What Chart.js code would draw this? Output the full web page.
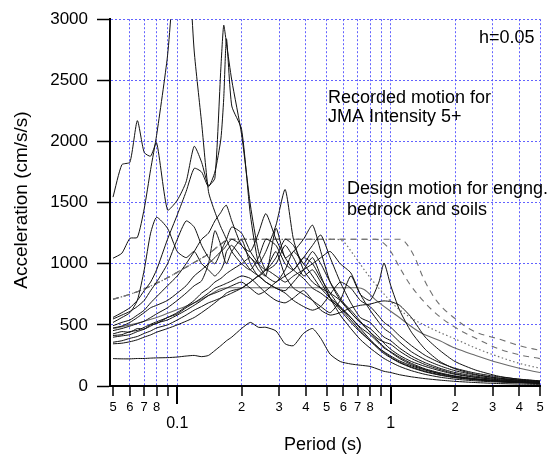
<!DOCTYPE html>
<html><head><meta charset="utf-8">
<script src="https://cdn.jsdelivr.net/npm/chart.js@4"></script>
<style>html,body{margin:0;padding:0;background:#fff;}#wrap{width:554px;height:457px;}</style>
</head><body><div id="wrap"><canvas id="c" width="554" height="457"></canvas></div>
<script>
// ---- Period grid (s) for recorded spectra ----
const periods = [0.05,0.055,0.06,0.065,0.07,0.075,0.08,0.09,0.1,0.11,0.12,0.13,0.14,0.15,0.16,0.165,0.17,0.18,0.2,0.22,0.24,0.26,0.29,0.32,0.35,0.39,0.43,0.47,0.52,0.58,0.65,0.72,0.8,0.88,0.93,1.0,1.1,1.25,1.45,1.7,2.0,2.5,3.2,4.0,5.0];

// ---- Recorded motions, JMA intensity 5+ (cm/s/s) ----
const rec01 = [1545,1810,1830,2170,1910,1880,1990,1440,1520,1670,1960,1830,1640,1700,2600,2950,2800,2500,2060,1480,1100,950,1000,1150,1050,900,950,850,720,620,520,440,370,310,280,245,205,165,130,100,78,56,40,31,24];
const rec02 = [1045,1086,1208,1215,1450,1770,2050,2700,3600,3700,2740,2152,1590,1424,1300,1250,1200,1100,1000,950,1050,1200,1150,1000,950,1050,1000,880,760,640,540,450,370,300,265,230,190,150,115,88,68,50,36,28,22];
const rec03 = [561,600,640,700,780,850,950,1200,1400,1590,1780,1750,1630,1750,2020,2350,2840,2290,2100,1400,1000,900,850,950,1100,1000,900,800,720,650,560,470,380,310,275,235,195,155,120,92,70,52,38,30,23];
const rec04 = [548,580,610,650,700,780,850,1000,1200,1350,1300,1150,1050,1000,1100,1150,1200,1300,1250,1100,1000,950,1050,1200,1150,1000,1100,1000,850,720,600,520,470,400,350,300,250,200,160,125,95,70,50,38,30];
const rec05 = [520,560,600,700,950,1250,1380,1290,1100,1050,1100,1000,950,900,950,1000,1100,1150,1050,950,900,850,800,780,850,950,1050,900,720,580,470,380,310,255,225,195,160,125,95,72,56,42,32,26,20];
const rec06 = [493,520,540,580,620,680,730,820,900,1000,1100,1200,1250,1350,1420,1460,1478,1350,1150,1100,1250,1410,1200,1050,950,880,800,760,700,640,560,480,420,350,310,280,235,185,140,108,82,60,44,34,26];
const rec07 = [475,490,520,560,600,640,660,700,760,820,900,950,1000,1050,1100,1120,1150,1200,1150,1050,1000,1100,1316,1607,1200,950,850,800,760,700,620,530,440,360,320,275,225,175,135,102,78,57,42,32,25];
const rec08 = [453,470,490,510,530,560,590,640,700,760,820,860,1000,1270,1150,1050,1000,1100,1197,1000,900,950,1100,900,800,750,700,650,600,700,900,750,700,850,1006,820,620,440,300,200,140,95,65,48,36];
const rec09 = [426,445,440,470,465,500,510,560,590,640,680,720,760,800,820,830,840,860,900,880,820,760,700,680,720,780,700,620,580,600,640,660,670,690,696,690,660,560,400,290,200,130,80,55,40];
const rec10 = [413,420,445,455,480,505,525,560,600,650,700,760,800,850,880,900,920,950,1000,1050,950,900,1289,1050,1100,1200,1316,1100,850,700,600,520,440,380,360,340,285,225,175,135,100,72,52,40,30];
const rec11 = [399,410,420,445,465,490,515,540,580,620,660,700,740,760,780,790,800,820,850,800,750,780,850,900,950,1050,1150,1235,1050,850,680,560,520,440,400,370,310,245,190,145,110,80,58,44,34];
const rec12 = [358,370,390,405,430,450,475,500,540,580,620,650,680,700,720,730,740,760,800,850,900,950,900,850,900,950,1000,1050,1100,1000,925,750,620,520,470,430,360,280,215,165,125,90,64,48,37];
const rec13 = [345,350,362,378,400,418,440,470,500,530,560,600,640,680,720,740,760,780,800,850,900,850,800,760,700,650,620,650,750,850,800,700,650,570,520,480,410,330,250,190,145,105,75,56,42];
const rec14 = [224,222,222,225,225,228,230,232,237,245,250,240,250,290,330,350,370,400,470,520,480,480,450,345,330,430,470,390,260,200,180,170,160,135,120,110,92,75,60,48,38,28,20,16,13];
const recorded = [rec01,rec02,rec03,rec04,rec05,rec06,rec07,rec08,rec09,rec10,rec11,rec12,rec13,rec14];

// ---- Design motions (cm/s/s) ----
const bedrockT = [0.05,0.06,0.07,0.08,0.1,0.12,0.14,0.16,0.175,0.3,0.5,0.7,0.75,0.86,1.07,1.37,1.69,2.0,2.5,3.2,4.0,5.0];
const bedrockA = [470,500,530,560,625,680,740,795,803,803,803,803,790,696,574,439,372,310,250,190,145,110];
const soil1T = [0.05,0.06,0.07,0.08,0.09,0.1,0.12,0.14,0.16,0.175,0.3,0.45,0.55,0.6,0.67,0.77,0.89,1.07,1.27,1.64,2.0,2.5,3.2,4.0,5.0];
const soil1A = [710,750,795,840,885,930,1010,1080,1160,1200,1200,1200,1200,1180,1073,925,790,641,548,450,385,310,240,185,145];
const soil2T = [0.05,0.06,0.07,0.08,0.09,0.1,0.12,0.14,0.16,0.175,0.3,0.5,0.7,0.85,0.95,1.0,1.1,1.23,1.42,1.64,2.0,2.5,3.2,4.0,5.0];
const soil2A = [710,750,795,840,885,930,1010,1080,1160,1200,1200,1200,1200,1200,1150,1100,970,831,696,588,480,390,305,255,224];
const soil3T = [0.05,0.06,0.07,0.08,0.09,0.1,0.12,0.14,0.16,0.175,0.3,0.5,0.8,1.12,1.2,1.3,1.42,1.64,1.97,2.44,3.27,4.0,5.0];
const soil3A = [710,750,795,840,885,930,1010,1080,1160,1200,1200,1200,1200,1200,1150,1046,884,696,560,450,380,330,291];

// ---- Axis ticks ----
const xGridValues = [0.06,0.07,0.08,0.09,0.1,0.2,0.3,0.4,0.5,0.6,0.7,0.8,0.9,1,2,3,4,5];
const xMinorTickValues = [0.05,0.06,0.07,0.08,0.09,0.2,0.3,0.4,0.5,0.6,0.7,0.8,0.9,2,3,4,5];
const xMinorLabelValues = [0.05,0.06,0.07,0.08,0.2,0.3,0.4,0.5,0.6,0.7,0.8,2,3,4,5];
const xMinorLabels = ['5','6','7','8','2','3','4','5','6','7','8','2','3','4','5'];
const xMajorValues = [0.1,1];
const xMajorLabels = ['0.1','1'];
const yTickValues = [0,500,1000,1500,2000,2500,3000];

const FONT = '"Liberation Sans", Arial, Helvetica, sans-serif';
const GRID = 'rgba(70,70,255,0.85)';

const datasets = [];
recorded.forEach((arr, k) => {
  datasets.push({label:'rec'+(k+1), data: periods.map((t,i)=>({x:t,y:arr[i]})),
    borderColor:'#111', borderWidth:1, pointRadius:0, tension:0.2});
});
const design = [
  [bedrockT, bedrockA, [], '#6a6a6a', 1.1],
  [soil1T, soil1A, [1.5,2.5], '#707070', 1.2],
  [soil2T, soil2A, [6,5], '#707070', 1.1],
  [soil3T, soil3A, [6,5], '#707070', 1.1]
];
design.forEach(([T,A,dash,col,w],k)=>{
  datasets.push({label:'design'+k, data: T.map((t,i)=>({x:t,y:A[i]})),
    borderColor:col, borderWidth:w, borderDash:dash, pointRadius:0, cubicInterpolationMode:'monotone'});
});

const decor = {
  id:'decor',
  afterDraw(chart){
    const ctx = chart.ctx, xs = chart.scales.x, area = chart.chartArea;
    const y0 = area.bottom + 1;
    ctx.save();
    ctx.strokeStyle = '#000'; ctx.lineWidth = 1.5;
    xMinorTickValues.forEach(v=>{
      const px = Math.round(xs.getPixelForValue(v));
      ctx.beginPath(); ctx.moveTo(px, y0); ctx.lineTo(px, y0+9); ctx.stroke();
    });
    ctx.lineWidth = 2;
    xMajorValues.forEach(v=>{
      const px = Math.round(xs.getPixelForValue(v));
      ctx.beginPath(); ctx.moveTo(px, y0); ctx.lineTo(px, y0+17); ctx.stroke();
    });
    ctx.fillStyle = '#000';
    ctx.textAlign = 'center'; ctx.textBaseline = 'middle';
    ctx.font = '13px ' + FONT;
    xMinorLabelValues.forEach((v,i)=> ctx.fillText(xMinorLabels[i], xs.getPixelForValue(v), 407));
    ctx.font = '16px ' + FONT;
    xMajorValues.forEach((v,i)=> ctx.fillText(xMajorLabels[i], xs.getPixelForValue(v), 424));
    ctx.font = '18px ' + FONT;
    ctx.fillText('Period (s)', 323, 445);
    ctx.save(); ctx.translate(22, 200); ctx.rotate(-Math.PI/2);
    ctx.font = '19px ' + FONT;
    ctx.fillText('Acceleration (cm/s/s)', 0, 0); ctx.restore();
    ctx.textAlign = 'left'; ctx.textBaseline = 'alphabetic';
    ctx.font = '18px ' + FONT;
    ctx.fillText('h=0.05', 479, 43);
    ctx.fillText('Recorded motion for', 328, 103);
    ctx.fillText('JMA Intensity 5+', 328, 122);
    ctx.fillText('Design motion for engng.', 347, 194);
    ctx.fillText('bedrock and soils', 347, 215);
    ctx.restore();
  }
};

new Chart(document.getElementById('c'), {
  type:'line',
  data:{datasets},
  options:{
    responsive:false, animation:false, devicePixelRatio:1,
    layout:{padding:{top:15,right:14,left:0,bottom:0}},
    plugins:{legend:{display:false}, tooltip:{enabled:false}},
    scales:{
      x:{type:'logarithmic', min:0.0484, max:5,
        afterBuildTicks: s => { s.ticks = xGridValues.map(v=>({value:v})); },
        afterFit: s => { s.height = 71; },
        ticks:{display:false},
        grid:{color:GRID, lineWidth:1, drawTicks:false},
        border:{display:true, color:'#000', width:2, dash:[2,2], z:1}
      },
      y:{type:'linear', min:0, max:3000,
        afterBuildTicks: s => { s.ticks = yTickValues.map(v=>({value:v})); },
        afterFit: s => { s.width = 110; },
        ticks:{color:'#000', font:{family:FONT, size:17}, padding:9, callback: v => String(v)},
        grid:{color: c => (c.tick && c.tick.value === 0) ? 'rgba(0,0,0,0)' : GRID,
              tickColor:'#000', tickLength:13, tickWidth:1.5, tickBorderDash:[], lineWidth:1},
        border:{display:true, color:'#000', width:2, dash:[2,2], z:1}
      }
    }
  },
  plugins:[decor]
});
</script>
</body></html>
